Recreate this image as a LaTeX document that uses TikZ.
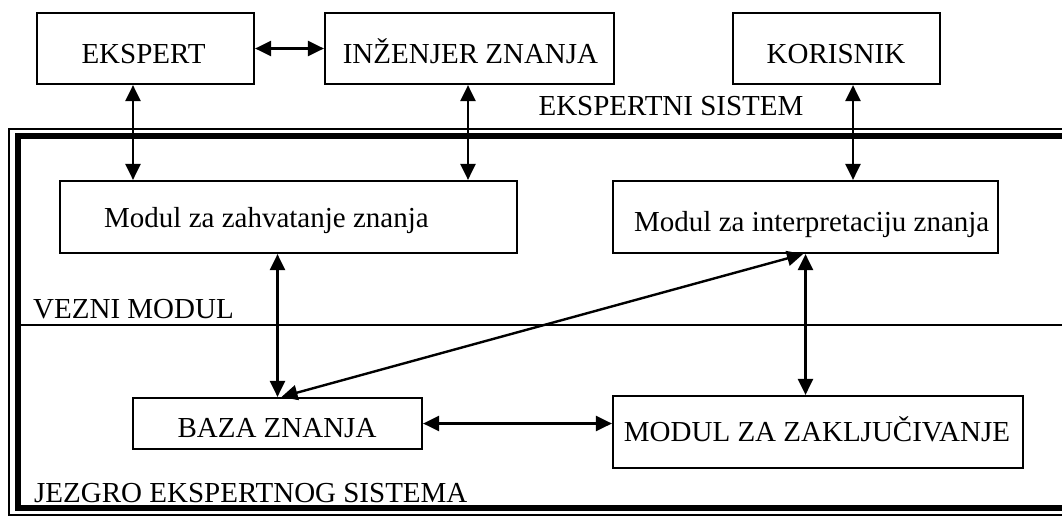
\documentclass[tikz,border=0pt]{standalone}
\usepackage{fontspec}
\setmainfont{Liberation Serif}
\usetikzlibrary{arrows.meta}
\begin{document}
\begin{tikzpicture}[x=1pt,y=-1pt,
  box/.style={draw, line width=2.2pt, inner sep=0pt, minimum height=71pt},
  lbl/.style={inner sep=0pt, font=\fontsize{29}{34}\selectfont},
  arr/.style={line width=2.4pt, {Triangle[length=16pt,width=15pt]}-{Triangle[length=16pt,width=15pt]}},
  frthin/.style={line width=2.4pt},
  frthick/.style={line width=6pt}]
\useasboundingbox (0,0) rectangle (1062,517);
\clip (0,0) rectangle (1062,517);
\fill[white] (0,0) rectangle (1062,517);
% frame
\draw[frthin] (9,129) rectangle (1090,515);
\draw[frthick] (17.5,135.5) rectangle (1090,508);
\draw[frthin] (17.5,325) -- (1090,325);
% boxes
\node[box, minimum width=217pt] (ek) at (145.5,48.5) {};
\node[box, minimum width=289pt] (inz) at (469.5,48.5) {};
\node[box, minimum width=207pt] (kor) at (836.5,48.5) {};
\node[box, minimum width=457pt, minimum height=72pt] (zahv) at (288.5,217) {};
\node[box, minimum width=385pt, minimum height=72pt] (interp) at (805.5,217) {};
\node[box, minimum width=289pt, minimum height=51pt] (baza) at (277.5,423.5) {};
\node[box, minimum width=410pt, minimum height=72pt] (zakl) at (818,432) {};
% texts
\node[lbl, anchor=base] (ekt) at (143.5,63) {EKSPERT};
\node[lbl, anchor=base] (inzt) at (470.5,63) {INŽENJER ZNANJA};
\node[lbl, anchor=base] (kort) at (836,63) {KORISNIK};
\node[lbl, anchor=base] (es) at (671,115) {EKSPERTNI SISTEM};
\node[lbl, anchor=base west] (zahvt) at (104,227) {Modul za zahvatanje znanja};
\node[lbl, anchor=base west] (interpt) at (634,231) {Modul za interpretaciju znanja};
\node[lbl, anchor=base west] (vez) at (33,318) {VEZNI MODUL};
\node[lbl, anchor=base] (bazat) at (277,437) {BAZA ZNANJA};
\node[lbl, anchor=base] (zaklt) at (817,441) {MODUL ZA ZAKLJUČIVANJE};
\node[lbl, anchor=base west] (jez) at (34,502) {JEZGRO EKSPERTNOG SISTEMA};
% connectors
\draw[arr] (ek.east) -- (inz.west);
\draw[arr] ([xshift=-12.5pt]ek.south) -- ([xshift=-12.5pt]ek.south |- zahv.north);
\draw[arr] ([xshift=-1.5pt]inz.south) -- ([xshift=-1.5pt]inz.south |- zahv.north);
\draw[arr] ([xshift=16.5pt]kor.south) -- ([xshift=16.5pt]kor.south |- interp.north);
\draw[arr] (baza.north |- zahv.south) -- (baza.north);
\draw[arr] (interp.south) -- (interp.south |- zakl.north);
\draw[arr] ([xshift=4pt]baza.north) -- ([xshift=-2.5pt]interp.south);
\draw[arr] (baza.east) -- (baza.east -| zakl.west);
\end{tikzpicture}
\end{document}
